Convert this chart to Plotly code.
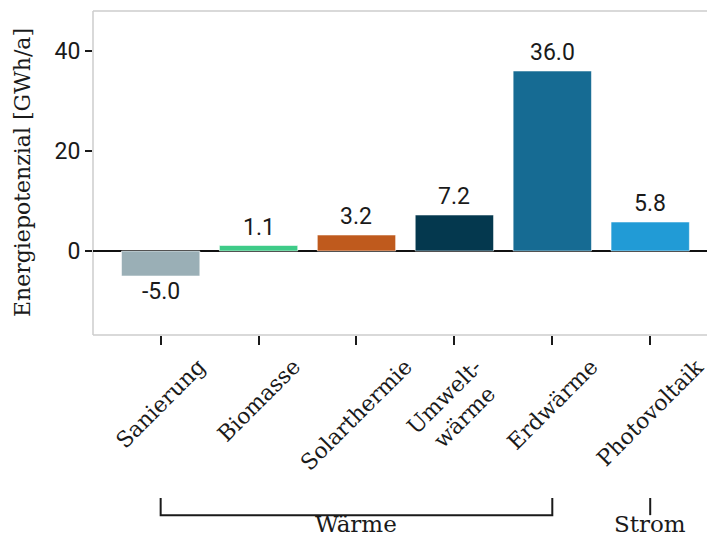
import plotly.graph_objects as go

categories = ["Sanierung", "Biomasse", "Solarthermie", "Umwelt-<br>wärme", "Erdwärme", "Photovoltaik"]
values = [-5.0, 1.1, 3.2, 7.2, 36.0, 5.8]
colors = ["#9aafb6", "#3ecb88", "#bf5a1d", "#04384e", "#166b93", "#219bd6"]
groups = [("Wärme", 0, 4), ("Strom", 5, 5)]
y_ticks = [0, 20, 40]
y_title = "Energiepotenzial [GWh/a]"

SERIF = "DejaVu Serif"
SANS = "Roboto"

xs = list(range(len(categories)))

fig = go.Figure()
fig.add_trace(go.Bar(
    x=xs, y=values, width=0.8,
    marker=dict(color=colors, line=dict(color="rgba(255,255,255,0.55)", width=1)),
    hoverinfo="skip", showlegend=False,
))

annotations = []
# value labels
for i, v in enumerate(values):
    annotations.append(dict(
        x=i, y=v, xref="x", yref="y", text=f"{v:.1f}", showarrow=False,
        xanchor="center", yanchor="bottom" if v >= 0 else "top",
        yshift=3 if v >= 0 else 0,
        font=dict(family=SANS, size=23, color="#1a1a1a"),
    ))
# category labels
for i, c in enumerate(categories):
    annotations.append(dict(
        x=i, y=-0.05, xref="x", yref="paper", text=c, showarrow=False,
        xanchor="center", yanchor="top", textangle=-45, align="center",
        font=dict(family=SERIF, size=22, color="#1a1a1a"),
    ))
# group labels
shapes = []
for name, a, b in groups:
    annotations.append(dict(
        x=(a + b) / 2, y=-0.627, xref="x", yref="paper", text=name, showarrow=False,
        xanchor="center", yanchor="bottom", borderpad=0,
        font=dict(family=SERIF, size=23, color="#1a1a1a"),
    ))
    if a == b:
        shapes.append(dict(type="line", xref="x", yref="paper", x0=a, x1=a, y0=-0.503, y1=-0.556,
                           line=dict(color="#1a1a1a", width=2)))
    else:
        shapes.append(dict(type="path", xref="x", yref="paper",
                           path=f"M {a},-0.503 L {a},-0.556 L {b},-0.556 L {b},-0.503",
                           line=dict(color="#1a1a1a", width=2)))
# y title
annotations.append(dict(
    x=-0.1156, y=0.5, xref="paper", yref="paper", text=y_title, showarrow=False,
    xanchor="center", yanchor="middle", textangle=-90,
    font=dict(family=SERIF, size=22, color="#1a1a1a"),
))
# frame (top, left, bottom)
for (x0, y0, x1, y1) in [(0, 1, 1, 1), (0, 0, 0, 1), (0, 0, 1, 0)]:
    shapes.append(dict(type="line", xref="paper", yref="paper", x0=x0, y0=y0, x1=x1, y1=y1,
                       line=dict(color="#cccccc", width=1.5), layer="below"))

fig.update_layout(
    width=707, height=539,
    margin=dict(l=93, r=0, t=11, b=204),
    plot_bgcolor="white", paper_bgcolor="white",
    annotations=annotations, shapes=shapes,
    xaxis=dict(range=[-0.691, 5.58], tickvals=xs, showticklabels=False,
               ticks="outside", ticklen=9, tickwidth=1.5, tickcolor="#1a1a1a",
               showgrid=False, zeroline=False, showline=False),
    yaxis=dict(range=[-16.8, 48], tickvals=y_ticks, ticks="outside", ticklen=7,
               tickwidth=1.5, tickcolor="#1a1a1a", showgrid=False,
               zeroline=True, zerolinecolor="#111111", zerolinewidth=1.5,
               showline=False, tickfont=dict(family=SANS, size=23, color="#1a1a1a")),
)

fig.write_html("out.html", config={"displayModeBar": False},
               post_script="document.body.style.margin='0';document.body.style.overflow='hidden';")
